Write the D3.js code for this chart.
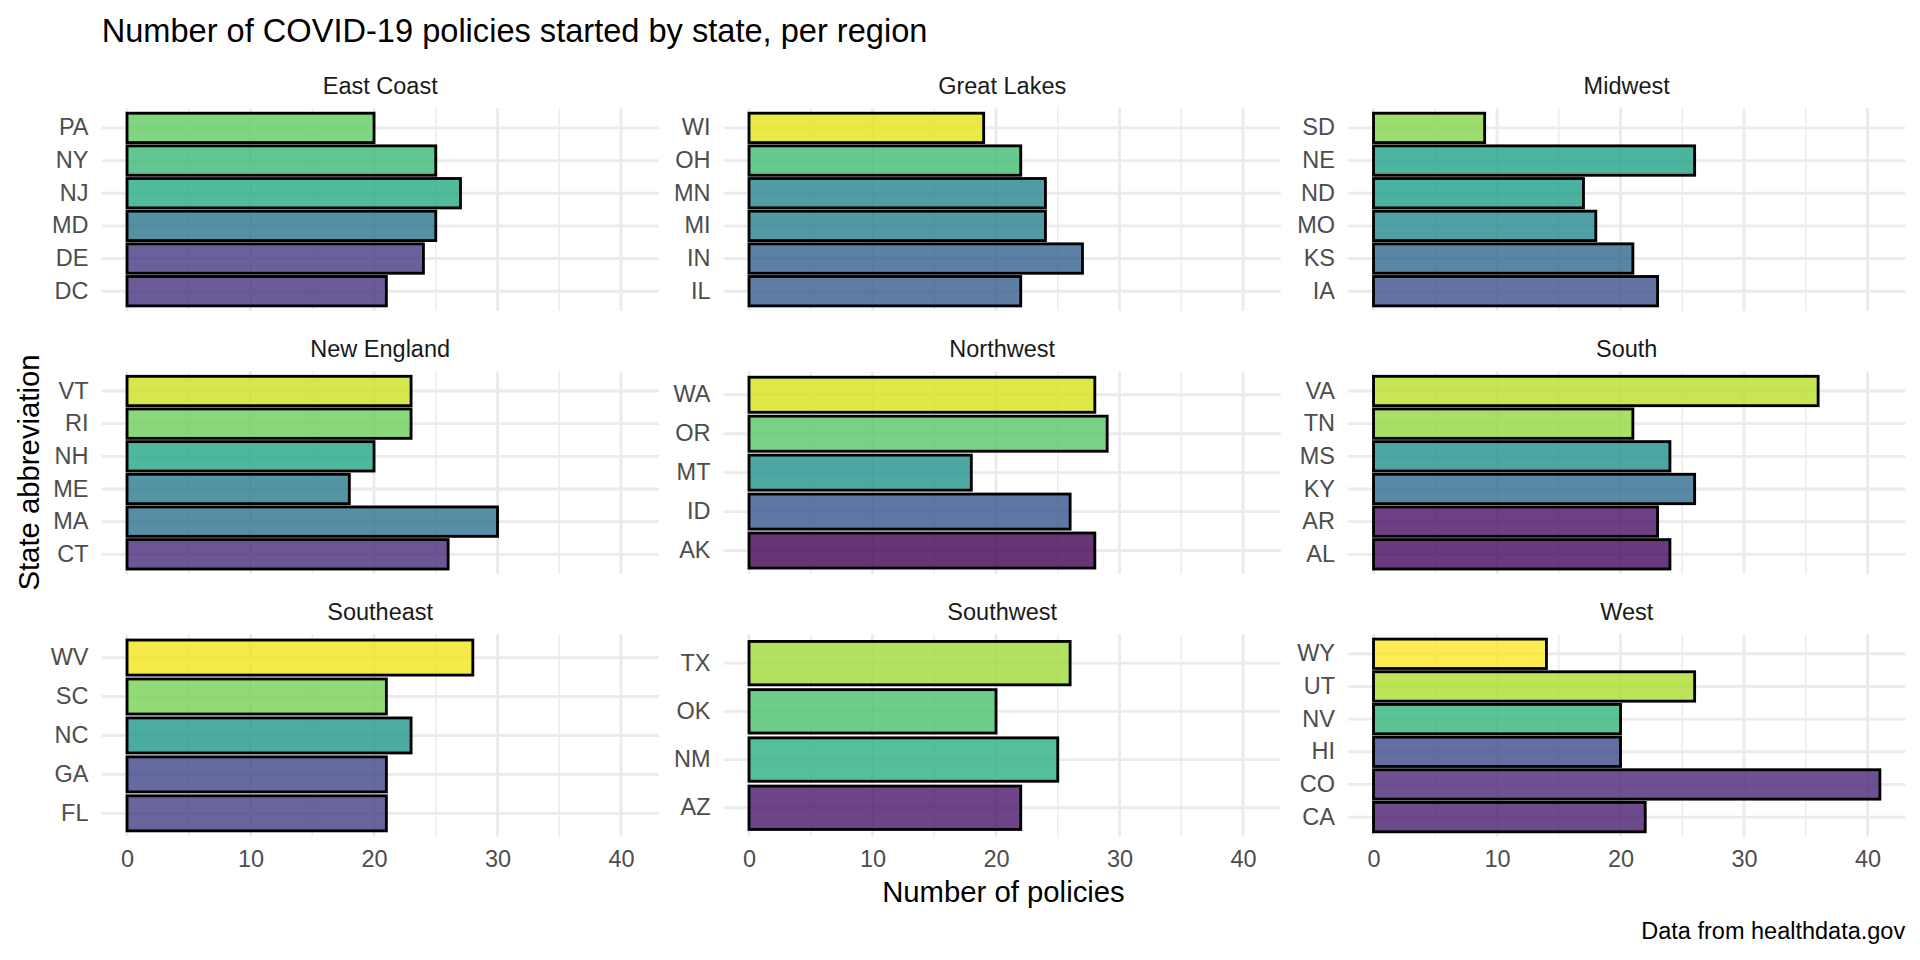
<!DOCTYPE html>
<meta charset="utf-8">
<title>COVID-19 policies by state, per region</title>
<style>
body { margin: 0; background: white; }
text { font-family: "Liberation Sans", Arial, sans-serif; }
</style>
<body>
<svg id="chart" width="1920" height="960"></svg>
<script src="https://cdn.jsdelivr.net/npm/d3@7"></script>
<script>

// values
var regions = ["East Coast", "Great Lakes", "Midwest", "New England", "Northwest",
               "South", "Southeast", "Southwest", "West"];
var regionStates = [
  ["DC", "DE", "MD", "NJ", "NY", "PA"],
  ["IL", "IN", "MI", "MN", "OH", "WI"],
  ["IA", "KS", "MO", "ND", "NE", "SD"],
  ["CT", "MA", "ME", "NH", "RI", "VT"],
  ["AK", "ID", "MT", "OR", "WA"],
  ["AL", "AR", "KY", "MS", "TN", "VA"],
  ["FL", "GA", "NC", "SC", "WV"],
  ["AZ", "NM", "OK", "TX"],
  ["CA", "CO", "HI", "NV", "UT", "WY"]
];
var regionCounts = [
  [21, 24, 25, 27, 25, 20],
  [22, 27, 24, 24, 22, 19],
  [23, 21, 18, 17, 26, 9],
  [26, 30, 18, 20, 23, 23],
  [28, 26, 18, 29, 28],
  [24, 23, 26, 24, 21, 36],
  [21, 21, 23, 21, 28],
  [22, 25, 20, 26],
  [22, 41, 20, 20, 26, 14]
];
var xTicks = [0, 10, 20, 30, 40];
var xMinor = [5, 15, 25, 35];

// layout (px)
var colLeft = [101.7, 723.7, 1348.2];
var rowTop = [108.3, 371.4, 634.2];
var panelW = 557, panelH = 202.5;
var gridCol = "#ebebeb";

var svg = d3.select("#chart");
svg.append("rect").attr("width", 1920).attr("height", 960).attr("fill", "white");

// fill colour: viridis over all states in alphabetical order
var allStates = d3.merge(regionStates).slice().sort(d3.ascending);
var color = d3.scaleOrdinal()
  .domain(allStates)
  .range(allStates.map(function(d, i) { return d3.interpolateViridis(i / (allStates.length - 1)); }));

var maxVal = d3.max(d3.merge(regionCounts));
var x = d3.scaleLinear().domain([-0.05 * maxVal, 1.05 * maxVal]).range([0, panelW]);

regions.forEach(function(region, k) {
  var col = k % 3, row = Math.floor(k / 3);
  var g = svg.append("g").attr("transform", "translate(" + colLeft[col] + "," + rowTop[row] + ")");

  var rows = regionStates[k].map(function(s, i) { return {state: s, n: regionCounts[k][i]}; });

  // first level at the bottom, like ggplot
  var y = d3.scaleBand()
    .domain(regionStates[k].slice().reverse())
    .range([0, panelH])
    .paddingInner(0.1)
    .paddingOuter(0.15);

  // grid
  g.selectAll(".minor").data(xMinor).enter().append("line")
    .attr("x1", function(d) { return x(d); }).attr("x2", function(d) { return x(d); })
    .attr("y1", 0).attr("y2", panelH)
    .attr("stroke", gridCol).attr("stroke-width", 1.42);
  g.selectAll(".major").data(xTicks).enter().append("line")
    .attr("x1", function(d) { return x(d); }).attr("x2", function(d) { return x(d); })
    .attr("y1", 0).attr("y2", panelH)
    .attr("stroke", gridCol).attr("stroke-width", 2.85);
  g.selectAll(".hgrid").data(y.domain()).enter().append("line")
    .attr("x1", 0).attr("x2", panelW)
    .attr("y1", function(d) { return y(d) + y.bandwidth() / 2; })
    .attr("y2", function(d) { return y(d) + y.bandwidth() / 2; })
    .attr("stroke", gridCol).attr("stroke-width", 2.85);

  // bars
  g.selectAll(".bar").data(rows).enter().append("rect")
    .attr("x", x(0))
    .attr("y", function(d) { return y(d.state); })
    .attr("width", function(d) { return x(d.n) - x(0); })
    .attr("height", y.bandwidth())
    .attr("fill", function(d) { return color(d.state); })
    .attr("fill-opacity", 0.8)
    .attr("stroke", "black")
    .attr("stroke-width", 2.85);

  // y axis labels
  var ya = g.append("g").call(d3.axisLeft(y).tickSize(0).tickPadding(13.2));
  ya.select(".domain").remove();
  ya.selectAll("text").attr("font-size", 23.5).attr("fill", "#4d4d4d")
    .style("font-family", "Liberation Sans, Arial, sans-serif");

  // x axis labels only on the bottom row
  if (row == 2) {
    var xa = g.append("g").attr("transform", "translate(0," + panelH + ")")
      .call(d3.axisBottom(x).tickValues(xTicks).tickSize(0).tickPadding(13.2));
    xa.select(".domain").remove();
    xa.selectAll("text").attr("font-size", 23.5).attr("fill", "#4d4d4d")
      .style("font-family", "Liberation Sans, Arial, sans-serif");
  }

  // strip
  g.append("text")
    .attr("x", panelW / 2).attr("y", -14.3)
    .attr("text-anchor", "middle")
    .attr("font-size", 23.5).attr("fill", "#1a1a1a")
    .text(region);
});

// titles
svg.append("text")
  .attr("x", colLeft[0]).attr("y", 41.7)
  .attr("font-size", 32.6).attr("fill", "black")
  .text("Number of COVID-19 policies started by state, per region");

svg.append("text")
  .attr("x", (colLeft[0] + colLeft[2] + panelW) / 2).attr("y", 901.7)
  .attr("text-anchor", "middle")
  .attr("font-size", 29.3).attr("fill", "black")
  .text("Number of policies");

svg.append("text")
  .attr("transform", "translate(38.5," + (rowTop[0] + rowTop[2] + panelH) / 2 + ") rotate(-90)")
  .attr("text-anchor", "middle")
  .attr("font-size", 29.3).attr("fill", "black")
  .text("State abbreviation");

svg.append("text")
  .attr("x", colLeft[2] + panelW).attr("y", 939.3)
  .attr("text-anchor", "end")
  .attr("font-size", 23.5).attr("fill", "black")
  .text("Data from healthdata.gov");

</script>
</body>
